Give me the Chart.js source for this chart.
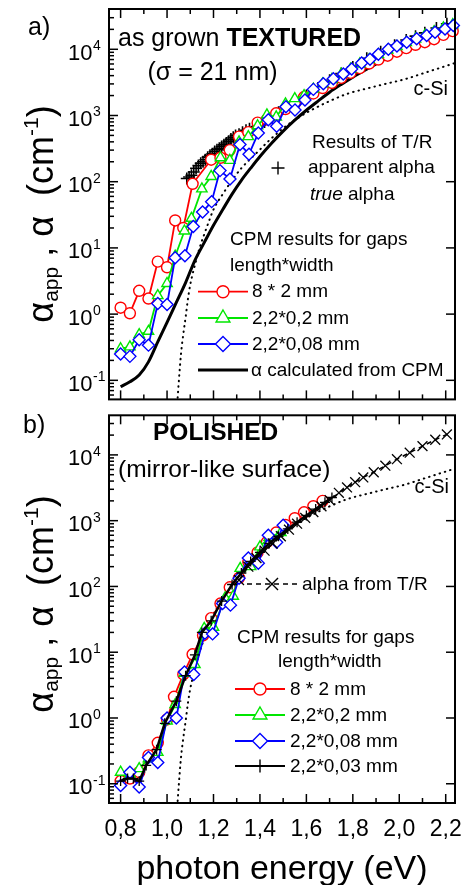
<!DOCTYPE html>
<html>
<head>
<meta charset="utf-8">
<script src="https://cdn.jsdelivr.net/npm/chart.js@4.4.1/dist/chart.umd.min.js"></script>
<style>
  html, body { margin: 0; padding: 0; background: #fff; }
  body { width: 467px; height: 885px; position: relative; overflow: hidden; }
  canvas { position: absolute; left: 0; }
  #ChartTextured { top: 0; }
  #ChartPolished { top: 407px; }
</style>
</head>
<body>
<canvas id="ChartTextured" width="467" height="407"></canvas>
<canvas id="ChartPolished" width="467" height="478"></canvas>
<script>
const FONT = '"Liberation Sans", Arial, sans-serif';
const RED = '#ff0000', GREEN = '#00e600', BLUE = '#0000ff', BLACK = '#000000';

// axis ticks
const xTicksMajor = [0.8, 1.0, 1.2, 1.4, 1.6, 1.8, 2.0, 2.2];
const xTickLabels = ['0,8', '1,0', '1,2', '1,4', '1,6', '1,8', '2,0', '2,2'];
const xTicksMinor = [0.9, 1.1, 1.3, 1.5, 1.7, 1.9, 2.1];
const yDecades = [0.1, 1, 10, 100, 1000, 10000];
const yDecadeExp = ['-1', '0', '1', '2', '3', '4'];
const yMinorDecades = [0.01, 0.1, 1, 10, 100, 1000, 10000];

const gapLabels = ['8 * 2 mm', '2,2*0,2 mm', '2,2*0,08 mm', '2,2*0,03 mm'];

// c-Si reference (dotted), both panels
const cSiE = [1.044, 1.05, 1.06, 1.07, 1.08, 1.09, 1.10, 1.12, 1.14, 1.16, 1.18, 1.20, 1.24, 1.28, 1.32, 1.38, 1.44, 1.50, 1.56, 1.62, 1.70, 1.78, 1.86, 1.94, 2.02, 2.10, 2.18, 2.24];
const cSiAlpha = [0.045, 0.09, 0.25, 0.5, 0.9, 1.7, 2.8, 5.5, 10, 16, 25, 38, 65, 105, 160, 260, 420, 640, 900, 1200, 1650, 2150, 2550, 3000, 3500, 4300, 5300, 6200];

// a) as grown TEXTURED
const texRedE = [0.80, 0.84, 0.88, 0.92, 0.96, 1.00, 1.035, 1.07, 1.11, 1.19, 1.23, 1.27, 1.31, 1.35, 1.39, 1.43, 1.47, 1.51, 1.55, 1.59, 1.63, 1.67, 1.71, 1.75, 1.79, 1.83, 1.87, 1.91, 1.95, 1.99, 2.03, 2.07, 2.11, 2.15, 2.19, 2.23];
const texRed = [1.25, 1.03, 2.25, 1.72, 6.2, 5.1, 26, 20, 93, 215, 230, 300, 480, 560, 780, 870, 1080, 1250, 1500, 1900, 2150, 2600, 3100, 3700, 4400, 5200, 6100, 7000, 8000, 9200, 10400, 11700, 12800, 14200, 16500, 18800];

const texGreenE = [0.80, 0.84, 0.88, 0.92, 0.96, 1.00, 1.035, 1.075, 1.105, 1.15, 1.19, 1.23, 1.27, 1.31, 1.35, 1.39, 1.43, 1.47, 1.51, 1.55, 1.59, 1.63, 1.67, 1.71, 1.75, 1.79, 1.83, 1.87, 1.91, 1.95, 1.99, 2.03, 2.07, 2.11, 2.15, 2.19, 2.23];
const texGreen = [0.30, 0.32, 0.49, 0.55, 1.9, 2.9, 7.5, 18, 28, 78, 120, 230, 210, 400, 480, 700, 1020, 950, 1500, 1800, 2000, 2500, 3000, 3500, 4200, 5000, 6000, 7000, 8300, 9700, 11000, 12600, 14300, 16200, 18500, 21000, 23500];

const texBlueE = [0.80, 0.84, 0.88, 0.92, 0.96, 1.00, 1.035, 1.077, 1.113, 1.153, 1.192, 1.228, 1.271, 1.314, 1.353, 1.393, 1.436, 1.472, 1.512, 1.551, 1.594, 1.63, 1.673, 1.716, 1.759, 1.795, 1.838, 1.874, 1.91, 1.953, 1.99, 2.032, 2.075, 2.118, 2.154, 2.197, 2.233];
const texBlue = [0.25, 0.23, 0.41, 0.34, 1.45, 1.4, 7.1, 7.6, 21, 35, 50, 147, 110, 366, 260, 546, 860, 686, 1360, 1210, 1710, 2480, 3020, 3580, 4250, 5050, 6200, 7100, 8430, 10000, 11200, 12800, 14400, 16100, 18100, 20300, 22800];

// alpha calculated from CPM (thick black)
const texTrueE = [0.80, 0.84, 0.88, 0.92, 0.96, 1.00, 1.04, 1.08, 1.12, 1.16, 1.20, 1.24, 1.28, 1.32, 1.36, 1.40, 1.45, 1.50, 1.55, 1.60, 1.65, 1.70, 1.75, 1.80, 1.85, 1.90, 1.95, 2.00, 2.06, 2.12, 2.18, 2.24];
const texTrue = [0.08, 0.095, 0.12, 0.19, 0.38, 0.75, 1.5, 3.0, 6.5, 12, 22, 38, 65, 105, 160, 240, 380, 580, 850, 1200, 1650, 2250, 2950, 3800, 4800, 6000, 7500, 9200, 11800, 15000, 19000, 24000];

// T/R apparent alpha (+)
const texTRE = [1.085, 1.095, 1.105, 1.115, 1.125, 1.135, 1.145, 1.155, 1.165, 1.175, 1.185, 1.195, 1.205, 1.215, 1.225, 1.235, 1.245, 1.255, 1.265, 1.275, 1.285, 1.295, 1.31, 1.325, 1.34, 1.355, 1.37, 1.385, 1.40, 1.42, 1.44, 1.46, 1.48, 1.50, 1.55, 1.60, 1.65, 1.70, 1.75, 1.80, 1.86, 1.92, 1.98, 2.03, 2.07, 2.11, 2.16, 2.205];
const texTR = [112, 118, 125, 140, 160, 175, 190, 200, 215, 235, 250, 265, 285, 305, 320, 340, 360, 385, 410, 440, 470, 500, 520, 560, 600, 630, 650, 680, 720, 800, 900, 1000, 1120, 1250, 1600, 2000, 2600, 3400, 4300, 5400, 7300, 9200, 11500, 13800, 15800, 17700, 21000, 24300];

// b) POLISHED
const polRedE = [0.80, 0.84, 0.88, 0.92, 0.96, 1.00, 1.03, 1.07, 1.11, 1.155, 1.19, 1.23, 1.27, 1.31, 1.35, 1.39, 1.43, 1.47, 1.51, 1.55, 1.59, 1.63, 1.67];
const polRed = [0.11, 0.12, 0.15, 0.27, 0.42, 0.95, 2.1, 4.6, 9.3, 18, 33, 55, 97, 135, 235, 330, 470, 660, 860, 1090, 1340, 1660, 2000];

const polGreenE = [0.80, 0.84, 0.88, 0.92, 0.96, 1.00, 1.035, 1.075, 1.12, 1.16, 1.20, 1.25, 1.285, 1.315, 1.36, 1.40, 1.44, 1.49];
const polGreen = [0.15, 0.14, 0.17, 0.24, 0.30, 0.9, 1.6, 4.8, 6.5, 23, 24, 67, 71, 188, 200, 400, 560, 660];

const polBlueE = [0.80, 0.84, 0.88, 0.92, 0.96, 1.00, 1.04, 1.075, 1.115, 1.163, 1.196, 1.239, 1.273, 1.31, 1.35, 1.393, 1.436, 1.472, 1.50];
const polBlue = [0.094, 0.15, 0.089, 0.25, 0.21, 1.0, 1.0, 5.0, 4.6, 19.5, 19, 55, 52, 133, 270, 225, 600, 470, 850];

const polBlackE = [0.80, 0.83, 0.855, 0.88, 0.91, 0.955, 0.99, 1.04, 1.08, 1.12, 1.15, 1.19, 1.235, 1.28, 1.32, 1.36, 1.40, 1.44, 1.48, 1.52, 1.56, 1.60, 1.64, 1.68, 1.71];
const polBlack = [0.11, 0.12, 0.12, 0.11, 0.19, 0.33, 0.83, 1.8, 4.4, 9.1, 20, 30, 60, 107, 160, 240, 330, 450, 580, 750, 950, 1200, 1500, 1900, 2250];

// alpha from T/R (x, dashed)
const polTRE = [1.31, 1.35, 1.385, 1.42, 1.455, 1.49, 1.525, 1.56, 1.595, 1.63, 1.665, 1.70, 1.74, 1.775, 1.81, 1.845, 1.89, 1.94, 1.99, 2.045, 2.10, 2.155, 2.205];
const polTR = [125, 200, 270, 350, 450, 580, 730, 900, 1100, 1350, 1650, 2050, 2650, 3200, 3850, 4550, 5450, 6850, 8600, 10800, 13600, 17000, 20500];

function pts(xs, ys) {
    return xs.map((x, i) => ({ x: x, y: ys[i] }));
}

function markerSeries(label, xs, ys, color, style, radius, extra) {
    return Object.assign({
        label: label,
        data: pts(xs, ys),
        borderColor: color,
        backgroundColor: color,
        borderWidth: 1.8,
        pointStyle: style,
        pointRadius: radius,
        pointBorderColor: color,
        pointBackgroundColor: '#ffffff',
        pointBorderWidth: 1.4,
        tension: 0,
        clip: 10
    }, extra || {});
}

function cSiSeries() {
    return {
        label: 'c-Si',
        data: pts(cSiE, cSiAlpha),
        borderColor: BLACK,
        borderWidth: 2,
        borderDash: [0.5, 5],
        borderCapStyle: 'round',
        pointRadius: 0,
        cubicInterpolationMode: 'monotone'
    };
}

// text helpers
function fontOf(r) {
    return (r.italic ? 'italic ' : '') + (r.bold ? 'bold ' : '') + r.size + 'px ' + FONT;
}
function text(ctx, str, x, y, size, opt) {
    opt = opt || {};
    ctx.save();
    ctx.font = fontOf({ size: size, bold: opt.bold, italic: opt.italic });
    ctx.fillStyle = BLACK;
    ctx.textAlign = opt.align || 'left';
    ctx.textBaseline = 'alphabetic';
    ctx.fillText(str, x, y);
    ctx.restore();
}
function runs(ctx, list, x, y) {
    ctx.save();
    ctx.fillStyle = BLACK;
    ctx.textAlign = 'left';
    ctx.textBaseline = 'alphabetic';
    let cx = x;
    list.forEach(r => {
        ctx.font = fontOf(r);
        ctx.fillText(r.t, cx, y + (r.dy || 0));
        cx += ctx.measureText(r.t).width;
    });
    ctx.restore();
}
function marker(ctx, style, x, y, r, color) {
    ctx.save();
    ctx.strokeStyle = color;
    ctx.fillStyle = '#ffffff';
    ctx.lineWidth = 1.4;
    Chart.helpers.drawPoint(ctx, { pointStyle: style, radius: r, borderWidth: 1.4, rotation: 0 }, x, y);
    ctx.restore();
}
function legendRow(ctx, x1, x2, y, color, lineW, dash, style, r) {
    ctx.save();
    ctx.strokeStyle = color;
    ctx.lineWidth = lineW;
    ctx.setLineDash(dash || []);
    ctx.beginPath();
    ctx.moveTo(x1, y);
    ctx.lineTo(x2, y);
    ctx.stroke();
    ctx.restore();
    if (style) marker(ctx, style, (x1 + x2) / 2, y, r, color);
}

// rotated y title: alpha_app , alpha (cm^-1)
function drawYTitle(ctx, cy) {
    const parts = [
        { t: 'α', size: 36, dy: 0 },
        { t: 'app', size: 21, dy: 5 },
        { t: ' , ', size: 36, dy: 0 },
        { t: 'α', size: 36, dy: 0 },
        { t: '  (cm', size: 36, dy: 0 },
        { t: '-1', size: 21, dy: -15 },
        { t: ')', size: 36, dy: 0 }
    ];
    let total = 0;
    parts.forEach(p => { ctx.font = fontOf(p); p.w = ctx.measureText(p.t).width; total += p.w; });
    ctx.save();
    ctx.translate(53, cy + total / 2);
    ctx.rotate(-Math.PI / 2);
    ctx.fillStyle = BLACK;
    ctx.textBaseline = 'alphabetic';
    ctx.textAlign = 'left';
    let cx = 0;
    parts.forEach(p => { ctx.font = fontOf(p); ctx.fillText(p.t, cx, p.dy); cx += p.w; });
    ctx.restore();
}

// frame, inward ticks, labels and annotations for one panel
function makeDecor(titleY, annotate) {
    return {
        id: 'decor',
        afterDraw(chart) {
            const ctx = chart.ctx;
            const a = chart.chartArea;
            const xs = chart.scales.x, ys = chart.scales.y;
            const seg = (x1, y1, x2, y2) => { ctx.beginPath(); ctx.moveTo(x1, y1); ctx.lineTo(x2, y2); ctx.stroke(); };
            ctx.save();
            ctx.strokeStyle = BLACK;
            ctx.lineWidth = 1.5;
            yDecades.forEach(v => {
                const py = ys.getPixelForValue(v);
                seg(a.left, py, a.left + 9, py);
                seg(a.right - 9, py, a.right, py);
            });
            yMinorDecades.forEach(d => {
                for (let m = 2; m <= 9; m++) {
                    const py = ys.getPixelForValue(d * m);
                    if (py > a.top + 1 && py < a.bottom - 1) seg(a.left, py, a.left + 5, py);
                }
            });
            xTicksMajor.forEach(v => {
                const px = xs.getPixelForValue(v);
                seg(px, a.bottom, px, a.bottom - 9);
                seg(px, a.top, px, a.top + 9);
            });
            xTicksMinor.forEach(v => {
                const px = xs.getPixelForValue(v);
                seg(px, a.bottom, px, a.bottom - 5);
                seg(px, a.top, px, a.top + 5);
            });
            ctx.lineWidth = 2;
            ctx.strokeRect(a.left, a.top, a.right - a.left, a.bottom - a.top);

            // y tick labels 10^n
            ctx.fillStyle = BLACK;
            ctx.textAlign = 'left';
            ctx.textBaseline = 'alphabetic';
            yDecades.forEach((v, i) => {
                const py = ys.getPixelForValue(v);
                ctx.font = '22px ' + FONT;
                ctx.fillText('10', 68, py + 10.5);
                const w = ctx.measureText('10').width;
                ctx.font = '14px ' + FONT;
                ctx.fillText(yDecadeExp[i], 68 + w + 0.5, py + 1);
            });
            ctx.restore();

            drawYTitle(ctx, titleY);
            annotate(ctx, xs, ys);
        }
    };
}

function annotateTextured(ctx) {
    text(ctx, 'a)', 28, 35, 25);
    runs(ctx, [{ t: 'as grown ', size: 25 }, { t: 'TEXTURED', size: 25, bold: true }], 118, 46);
    text(ctx, '(σ = 21 nm)', 212.5, 80, 25, { align: 'center' });
    text(ctx, 'c-Si', 448, 94.7, 20, { align: 'right' });
    text(ctx, 'Results of T/R', 312, 148, 19);
    marker(ctx, 'cross', 278, 168, 6.5, BLACK);
    text(ctx, 'apparent alpha', 308, 173, 19);
    runs(ctx, [{ t: 'true', size: 19, italic: true }, { t: ' alpha', size: 19 }], 310, 200);
    text(ctx, 'CPM results for gaps', 230, 245, 19);
    text(ctx, 'length*width', 230, 271, 19);
    legendRow(ctx, 198, 248, 291.7, RED, 1.8, null, 'circle', 6);
    text(ctx, gapLabels[0], 252, 297, 19);
    legendRow(ctx, 198, 248, 318, GREEN, 1.8, null, 'triangle', 8);
    text(ctx, gapLabels[1], 252, 323.5, 19);
    legendRow(ctx, 198, 248, 344, BLUE, 1.8, null, 'rectRot', 7.5);
    text(ctx, gapLabels[2], 252, 350, 19);
    legendRow(ctx, 198, 248, 370, BLACK, 3, null, null, 0);
    text(ctx, 'α calculated from CPM', 251, 376, 19);
}

function annotatePolished(ctx, xs) {
    text(ctx, 'b)', 23, 26, 25);
    text(ctx, 'POLISHED', 153, 33, 24.5, { bold: true });
    text(ctx, '(mirror-like surface)', 118, 69.7, 24.5);
    text(ctx, 'c-Si', 449, 85.7, 20, { align: 'right' });
    legendRow(ctx, 247, 297, 177, BLACK, 1.5, [5, 4], 'crossRot', 8.5);
    text(ctx, 'alpha from T/R', 302, 183, 19);
    text(ctx, 'CPM results for gaps', 237, 236, 19);
    text(ctx, 'length*width', 278, 260, 19);
    legendRow(ctx, 235, 285, 282, RED, 1.8, null, 'circle', 6);
    text(ctx, gapLabels[0], 290, 288, 19);
    legendRow(ctx, 235, 285, 308, GREEN, 1.8, null, 'triangle', 8);
    text(ctx, gapLabels[1], 290, 314, 19);
    legendRow(ctx, 235, 285, 334, BLUE, 1.8, null, 'rectRot', 7.5);
    text(ctx, gapLabels[2], 290, 340, 19);
    legendRow(ctx, 235, 285, 359, BLACK, 2, null, 'cross', 6.5);
    text(ctx, gapLabels[3], 290, 365, 19);

    // x axis tick labels and title
    xTicksMajor.forEach((v, i) => {
        text(ctx, xTickLabels[i], xs.getPixelForValue(v), 429, 23, { align: 'center' });
    });
    text(ctx, 'photon energy (eV)', 282, 472.3, 34, { align: 'center' });
}

function panelOptions(yMin, yMax, padding) {
    return {
        responsive: false,
        animation: false,
        events: [],
        layout: { padding: padding },
        plugins: {
            legend: { display: false },
            tooltip: { enabled: false },
            title: { display: false }
        },
        scales: {
            x: { type: 'linear', min: 0.75, max: 2.24, display: false },
            y: { type: 'logarithmic', min: yMin, max: yMax, display: false }
        }
    };
}

// Chart a) - as grown TEXTURED
new Chart(document.getElementById('ChartTextured').getContext('2d'), {
    type: 'line',
    data: {
        datasets: [
            markerSeries(gapLabels[2], texBlueE, texBlue, BLUE, 'rectRot', 6),
            markerSeries(gapLabels[1], texGreenE, texGreen, GREEN, 'triangle', 6),
            markerSeries(gapLabels[0], texRedE, texRed, RED, 'circle', 5.5),
            markerSeries('apparent alpha', texTRE, texTR, BLACK, 'cross', 6, { showLine: false, pointBorderWidth: 1.6 }),
            {
                label: 'α calculated from CPM',
                data: pts(texTrueE, texTrue),
                borderColor: BLACK,
                borderWidth: 3,
                pointRadius: 0,
                cubicInterpolationMode: 'monotone'
            },
            cSiSeries()
        ]
    },
    options: panelOptions(0.0515, 40600, { left: 109, right: 12, top: 9, bottom: 1 }),
    plugins: [makeDecor(214, annotateTextured)]
});

// Chart b) - POLISHED
new Chart(document.getElementById('ChartPolished').getContext('2d'), {
    type: 'line',
    data: {
        datasets: [
            markerSeries(gapLabels[3], polBlackE, polBlack, BLACK, 'cross', 5, { borderWidth: 2.5, pointBorderWidth: 1.3 }),
            markerSeries('alpha from T/R', polTRE, polTR, BLACK, 'crossRot', 7, { borderWidth: 1.5, borderDash: [5, 4], pointBorderWidth: 1.3 }),
            markerSeries(gapLabels[2], polBlueE, polBlue, BLUE, 'rectRot', 6),
            markerSeries(gapLabels[1], polGreenE, polGreen, GREEN, 'triangle', 6),
            markerSeries(gapLabels[0], polRedE, polRed, RED, 'circle', 5.5),
            cSiSeries()
        ]
    },
    options: panelOptions(0.051, 40000, { left: 109, right: 12, top: 0, bottom: 82 }),
    plugins: [makeDecor(197, annotatePolished)]
});
</script>
</body>
</html>
